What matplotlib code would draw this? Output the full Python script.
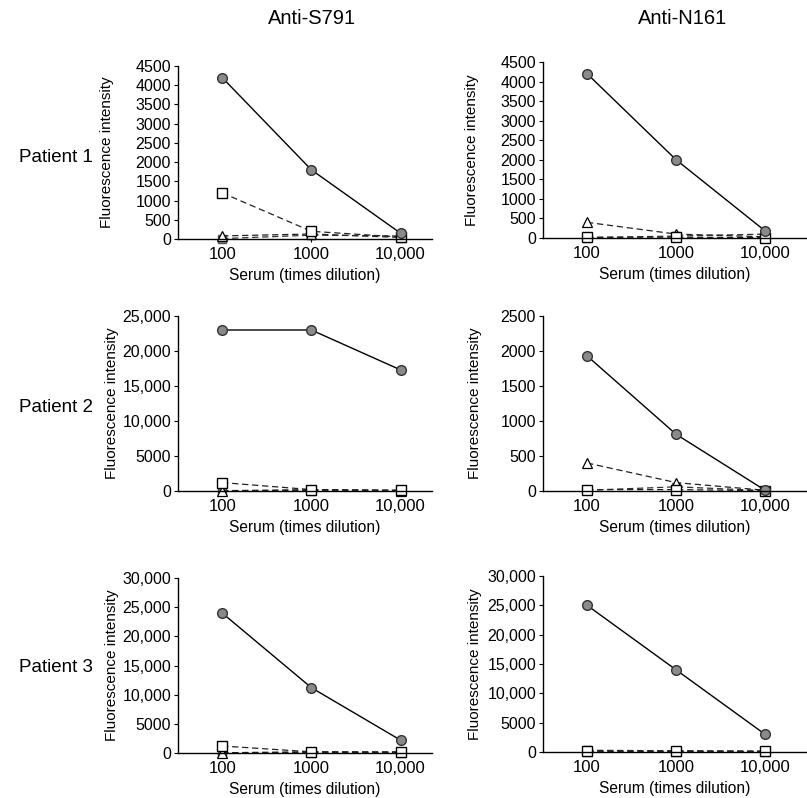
import matplotlib.pyplot as plt
from matplotlib.ticker import FixedLocator, FixedFormatter

plt.rcParams['font.family'] = ['Liberation Sans', 'DejaVu Sans']

dilution = [100, 1000, 10000]
xtick_labels = ['100', '1000', '10,000']
antigens = ['Anti-S791', 'Anti-N161']
patients = ['Patient 1', 'Patient 2', 'Patient 3']

# values: [patient][antigen] -> series
circle = [[[4200, 1800, 150], [4200, 2000, 180]],
          [[23000, 23000, 17300], [1930, 810, 10]],
          [[24000, 11200, 2200], [25000, 14000, 3000]]]
square = [[[1200, 200, 50], [20, 20, 10]],
          [[1200, 200, 100], [20, 20, 5]],
          [[1200, 200, 200], [200, 200, 150]]]
triangle = [[[80, 130, 40], [400, 100, 30]],
            [[0, 100, 50], [400, 120, 10]],
            [[50, 100, 100], [100, 100, 100]]]
grey = [[[10, 100, 80], [10, 50, 100]],
        [[50, 200, 100], [10, 60, 5]],
        [[50, 200, 100], [300, 200, 100]]]

yticks = [[list(range(0, 4501, 500)), list(range(0, 4501, 500))],
          [list(range(0, 25001, 5000)), list(range(0, 2501, 500))],
          [list(range(0, 30001, 5000)), list(range(0, 30001, 5000))]]


def fmt(v):
    return '{:,}'.format(v) if v >= 10000 else str(v)


W, H = 807, 798
fig = plt.figure(figsize=(W / 100, H / 100), dpi=100)

# pixel boxes: (left, right, bottom, top)
boxes = [[(178, 432, 239, 66), (543, 807, 238, 62)],
         [(178, 432, 491, 316), (543, 807, 491, 316)],
         [(178, 432, 753, 578), (543, 807, 752, 576)]]
xlims = [(32, 22500), (32, 29500)]
# x pixel of the right edge of each rotated y label
ylabel_x = [[114, 479], [119, 482], [119, 482]]

for r in range(3):
    for c in range(2):
        l, rr, b, t = boxes[r][c]
        ax = fig.add_axes([l / W, 1 - b / H, (rr - l) / W, (b - t) / H])
        ax.set_xscale('log')
        ax.plot(dilution, grey[r][c], '--', color='#333333', lw=0.9, marker='s',
                ms=6, mfc='#8a8a8a', mec='#555555', clip_on=False, dashes=(5, 3))
        ax.plot(dilution, triangle[r][c], '--', color='#222222', lw=0.9, marker='^',
                ms=7, mfc='white', mec='black', mew=0.9, clip_on=False, dashes=(5, 3))
        ax.plot(dilution, square[r][c], '--', color='#222222', lw=0.9, marker='s',
                ms=7, mfc='white', mec='black', mew=1.0, clip_on=False, dashes=(5, 3))
        ax.plot(dilution, circle[r][c], '-', color='black', lw=1.0, marker='o',
                ms=7, mfc='#8a8a8a', mec='#333333', mew=1.0, clip_on=False)
        ax.set_xlim(*xlims[c])
        ax.set_ylim(0, yticks[r][c][-1])
        ax.xaxis.set_major_locator(FixedLocator(dilution))
        ax.xaxis.set_major_formatter(FixedFormatter(xtick_labels))
        ax.xaxis.set_minor_locator(FixedLocator([]))
        ax.set_yticks(yticks[r][c])
        ax.set_yticklabels([fmt(v) for v in yticks[r][c]])
        ax.spines['top'].set_visible(False)
        ax.spines['right'].set_visible(False)
        for s in ('left', 'bottom'):
            ax.spines[s].set_linewidth(1.0)
        ax.tick_params(axis='y', direction='out', length=3, width=0.8,
                       labelsize=11.5, pad=2)
        ax.tick_params(axis='x', direction='out', length=2, width=0.8,
                       labelsize=12, pad=4)
        ax.set_ylabel('Fluorescence intensity', fontsize=11)
        ax.yaxis.set_label_coords((ylabel_x[r][c] - l) / (rr - l), 0.5)
        ax.set_xlabel('Serum (times dilution)', fontsize=11.2, labelpad=4)

for c, name in enumerate(antigens):
    fig.text([312, 683][c] / W, 1 - 18 / H, name, ha='center', va='center',
             fontsize=14.5)
for r, name in enumerate(patients):
    fig.text(56 / W, 1 - [157, 408, 668][r] / H, name, ha='center',
             va='center', fontsize=13.5)

fig.savefig('out.png', dpi=100)
